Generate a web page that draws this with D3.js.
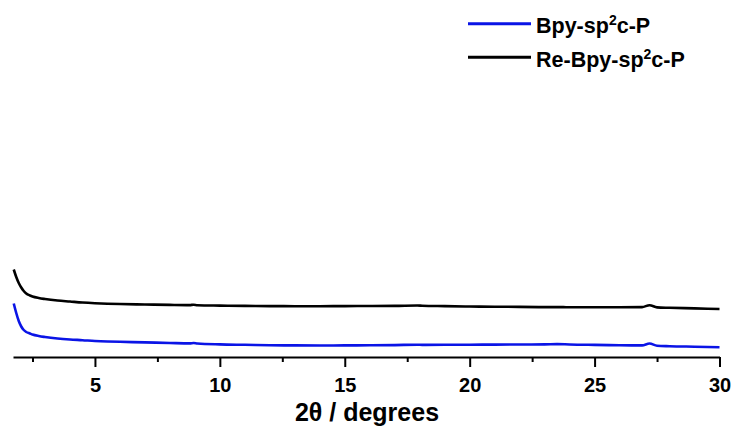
<!DOCTYPE html>
<html>
<head>
<meta charset="utf-8">
<script src="https://cdn.jsdelivr.net/npm/d3@7"></script>
<style>
  body { margin: 0; background: #fff; }
  svg text { font-family: Arial, "Liberation Sans", sans-serif; font-weight: bold; }
</style>
</head>
<body>
<svg id="xrd" width="734" height="427"></svg>
<script>
// 2-theta positions (degrees)
var twoTheta = [1.75, 1.85, 1.95, 2.05, 2.15, 2.25, 2.4, 2.5, 2.75, 3, 3.5, 4, 4.5, 5, 5.5, 6, 7, 8, 8.8, 8.95, 9.1, 10, 11, 12, 13, 14, 15, 16, 17, 17.9, 18.1, 19, 20, 21, 22, 23, 23.5, 24, 25, 26, 26.9, 27.2, 27.5, 28, 29, 30];

// intensity (a.u.)
var bpyPattern = [53.5, 44, 36, 30.5, 27, 25, 23.5, 22.5, 21, 20, 18.5, 17.5, 16.8, 16, 15.5, 15.2, 14.6, 14, 13.6, 14, 13.5, 12.6, 12.2, 11.8, 11.6, 11.5, 11.6, 11.7, 11.9, 12.3, 12.1, 12.2, 12.3, 12.4, 12.5, 12.6, 12.9, 12.5, 12.1, 11.8, 11.6, 13.5, 11.3, 10.8, 10.3, 9.8];
var reBpyPattern = [87.5, 80, 74, 69.5, 66, 63.5, 61.5, 60.5, 59, 58, 56.5, 55.5, 54.5, 53.8, 53.3, 53, 52.5, 52.1, 51.9, 52.3, 51.8, 51.4, 51.1, 50.9, 50.8, 50.8, 50.9, 51, 51.1, 51.5, 51.3, 50.9, 50.5, 50.3, 50.1, 49.9, 49.9, 49.8, 49.8, 49.8, 49.9, 51.8, 49.6, 49.2, 48.6, 48];

var xTicks = [5, 10, 15, 20, 25, 30];
var xMinorTicks = [2.5, 7.5, 12.5, 17.5, 22.5, 27.5];

var series = [
  { name: "Bpy-sp", sup: "2", tail: "c-P", values: bpyPattern, color: "#0a14e6" },
  { name: "Re-Bpy-sp", sup: "2", tail: "c-P", values: reBpyPattern, color: "#000000" }
];

var svg = d3.select("#xrd");

var x = d3.scaleLinear().domain([1.72, 30]).range([13, 719.5]);
var y = d3.scaleLinear().domain([0, 340]).range([357, 17]);

// bottom axis, major + minor ticks
var axisG = svg.append("g").attr("transform", "translate(0," + y(0) + ")");
axisG.call(d3.axisBottom(x).tickValues(xTicks).tickSize(10).tickPadding(11).tickSizeOuter(0));
axisG.select(".domain").attr("stroke", "#000").attr("stroke-width", 2);
axisG.selectAll(".tick line").attr("stroke-width", 2);
axisG.selectAll(".tick text").style("font-size", "20px").attr("fill", "#000");

var minorG = svg.append("g").attr("transform", "translate(0," + y(0) + ")");
minorG.call(d3.axisBottom(x).tickValues(xMinorTicks).tickSize(5).tickFormat(""));
minorG.select(".domain").remove();
minorG.selectAll(".tick line").attr("stroke-width", 2);

svg.append("text")
  .attr("x", 367)
  .attr("y", 421)
  .attr("text-anchor", "middle")
  .style("font-size", "25px")
  .text("2\u03b8 / degrees");

// patterns
var line = d3.line()
  .x(function (d, i) { return x(twoTheta[i]); })
  .y(function (d) { return y(d); })
  .curve(d3.curveMonotoneX);

series.forEach(function (s) {
  svg.append("path")
    .datum(s.values)
    .attr("d", line)
    .attr("fill", "none")
    .attr("stroke", s.color)
    .attr("stroke-width", 2.6)
    .attr("stroke-linejoin", "round");
});

// legend
var legend = svg.append("g");
series.forEach(function (s, i) {
  var base = 33.3 + i * 33.4;
  legend.append("line")
    .attr("x1", 468).attr("x2", 531)
    .attr("y1", base - 9.5).attr("y2", base - 9.5)
    .attr("stroke", s.color)
    .attr("stroke-width", 3);
  var t = legend.append("text")
    .attr("x", 536)
    .attr("y", base)
    .style("font-size", "21.5px");
  t.append("tspan").text(s.name);
  t.append("tspan").attr("dy", -8).style("font-size", "14px").text(s.sup);
  t.append("tspan").attr("dy", 8).text(s.tail);
});
</script>
</body>
</html>
